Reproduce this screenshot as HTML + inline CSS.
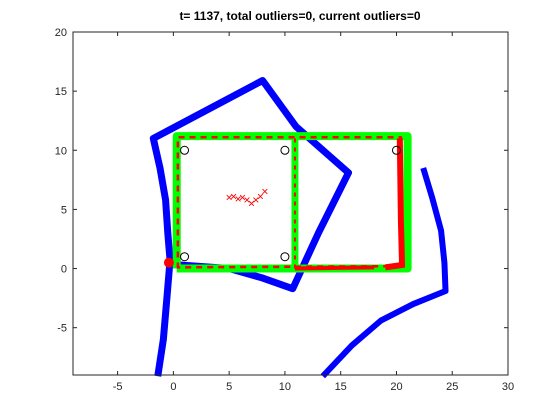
<!DOCTYPE html>
<html><head><meta charset="utf-8"><style>
body{margin:0;background:#fff;}
svg{display:block;font-family:"Liberation Sans",sans-serif;}
</style></head><body>
<svg id="chart" width="560" height="420" viewBox="0 0 560 420">
<rect x="0" y="0" width="560" height="420" fill="#fff"/>
<text x="300" y="20" text-anchor="middle" font-size="12" font-weight="bold" fill="#000">t= 1137, total outliers=0, current outliers=0</text>
<g id="plot"></g>
</svg>
<script>
const xTicks=[-5,0,5,10,15,20,25,30];
const yTicks=[-5,0,5,10,15,20];
const blueA_x=[-1.4,-0.9,-0.6,-0.3,-0.5,-0.7,-1.2,-1.8,8.0,11,15.7,13,10.7,8,5,0.6];
const blueA_y=[-9.1,-6,-2.7,0.7,3,5.8,8.5,11,15.9,12,8.1,3,-1.7,-0.8,0,0.3];
const blueB_x=[13.4,16,18.6,21.5,24.4,24.3,24,23.2,22.4];
const blueB_y=[-9.1,-6.5,-4.4,-3,-1.9,0.5,3.2,6,8.5];
const green_x=[0.3,0.3,21,21,0.3];
const green_y=[0,11.2,11.2,0,0];
const greenMid_x=[10.9,10.9];
const greenMid_y=[0,11.2];
const red_x=[0.4,0.4,20.4,20.4,0.4];
const red_y=[0,11.1,11.1,0.2,0.1];
const redMid_x=[10.9,10.9];
const redMid_y=[0,11.1];
const cluster_x=[5,5.4,5.8,6.2,6.6,7,7.4,7.8,8.2];
const cluster_y=[6,6.1,5.9,6,5.8,5.5,5.8,6.1,6.5];
const circ_x=[1,10,20,1,10];
const circ_y=[10,10,10,1,1];
const L=73,R=508,T=32,B=375,xmin=-9,xmax=30,ymin=-9,ymax=20;
const sx=v=>L+(v-xmin)/(xmax-xmin)*(R-L);
const sy=v=>B-(v-ymin)/(ymax-ymin)*(B-T);
const g=document.getElementById('plot');
const NS='http://www.w3.org/2000/svg';
function mk(t,a){const e=document.createElementNS(NS,t);for(const k in a)e.setAttribute(k,a[k]);g.appendChild(e);return e;}
const box=mk('rect',{x:L,y:T,width:R-L,height:B-T,fill:'#fff',stroke:'#262626','stroke-width':1});


function pts(xs,ys){return xs.map((v,i)=>sx(v)+','+sy(ys[i])).join(' ');}
const pa=mk('polyline',{points:pts(blueA_x,blueA_y),fill:'none',stroke:'#0000ff','stroke-width':7,'stroke-linejoin':'round'});


const pb=mk('polyline',{points:pts(blueB_x,blueB_y),fill:'none',stroke:'#0000ff','stroke-width':6,'stroke-linejoin':'round'});


const pg=mk('polyline',{points:pts(green_x,green_y),fill:'none',stroke:'#00ff00','stroke-width':8,'stroke-linejoin':'round'});


const pg2=mk('polyline',{points:pts(greenMid_x,greenMid_y),fill:'none',stroke:'#00ff00','stroke-width':7});


const pr=mk('polyline',{points:pts(red_x,red_y),fill:'none',stroke:'#ff0000','stroke-width':2.5,'stroke-dasharray':'6 5','stroke-linejoin':'round'});


const prm=mk('polyline',{points:pts(redMid_x,redMid_y),fill:'none',stroke:'#ff0000','stroke-width':2,'stroke-dasharray':'4 5'});


const pr2=mk('polyline',{points:pts([20.3,20.4,20.5,19],[11,4,0.3,0.1]),fill:'none',stroke:'#ff0000','stroke-width':6});


const pr3=mk('polyline',{points:pts([10.9,18],[0,0.1]),fill:'none',stroke:'#ff0000','stroke-width':4});


cluster_x.forEach((v,i)=>{const t=mk('text',{x:sx(v),y:sy(cluster_y[i])+4,'text-anchor':'middle','font-size':12,fill:'#ff0000'});t.textContent='×';

});
const dot=mk('circle',{cx:sx(-0.4),cy:sy(0.5),r:5,fill:'#ff0000'});


circ_x.forEach((v,i)=>{const c=mk('circle',{cx:sx(v),cy:sy(circ_y[i]),r:4,fill:'none',stroke:'#000','stroke-width':1});

});
const ov=mk('rect',{x:L,y:T,width:R-L,height:B-T,fill:'none',stroke:'#262626','stroke-width':1});


xTicks.forEach(v=>{const x=sx(v);mk('line',{x1:x,x2:x,y1:B,y2:B-4,stroke:'#262626'});mk('line',{x1:x,x2:x,y1:T,y2:T+4,stroke:'#262626'});
const t=mk('text',{x:x,y:B+15,'text-anchor':'middle','font-size':11,fill:'#262626'});t.textContent=v;

});
yTicks.forEach(v=>{const y=sy(v);mk('line',{x1:L,x2:L+4,y1:y,y2:y,stroke:'#262626'});mk('line',{x1:R,x2:R-4,y1:y,y2:y,stroke:'#262626'});
const t=mk('text',{x:L-6,y:y+4,'text-anchor':'end','font-size':11,fill:'#262626'});t.textContent=v;

});
</script>
</body></html>
